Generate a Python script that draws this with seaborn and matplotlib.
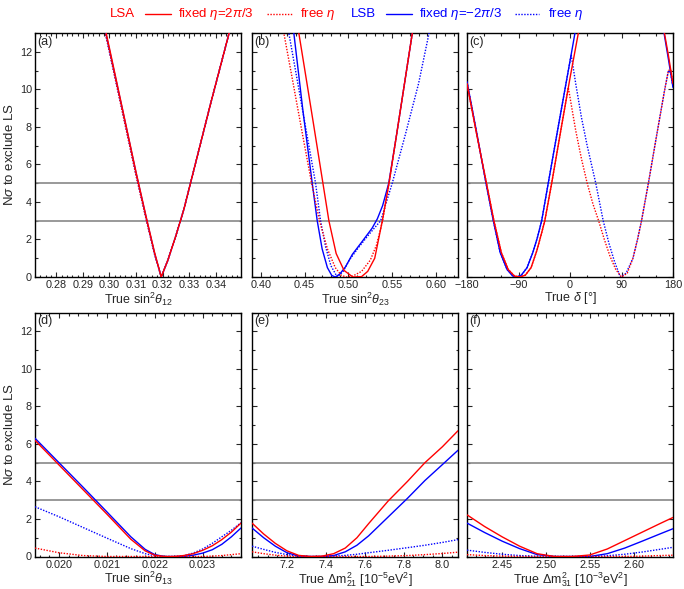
import numpy as np
import pandas as pd
import seaborn as sns
import matplotlib.pyplot as plt
from matplotlib.ticker import MultipleLocator, FormatStrFormatter
from matplotlib.lines import Line2D

# ---- (a) true sin^2 theta12 ----
s12_x = [0.296, 0.300, 0.305, 0.310, 0.314, 0.317, 0.3195, 0.322, 0.325, 0.328, 0.333, 0.338, 0.343, 0.348]
s12_lsa_fixed = [14.8, 12.2, 8.9, 5.6, 3.1, 1.3, 0.0, 0.9, 2.2, 3.6, 6.4, 9.2, 11.9, 14.6]
s12_lsa_free = [14.6, 12.0, 8.7, 5.4, 2.95, 1.2, 0.0, 0.9, 2.2, 3.6, 6.4, 9.2, 11.9, 14.6]
s12_lsb_fixed = [14.7, 12.1, 8.85, 5.55, 3.05, 1.25, 0.0, 0.9, 2.2, 3.6, 6.4, 9.2, 11.9, 14.6]
s12_lsb_free = [14.6, 12.0, 8.75, 5.45, 3.0, 1.2, 0.0, 0.9, 2.2, 3.6, 6.4, 9.2, 11.9, 14.6]

# ---- (b) true sin^2 theta23 ----
s23_lsa_fixed_x = [0.438, 0.4434, 0.450, 0.460, 0.4709, 0.4777, 0.486, 0.495, 0.505, 0.515, 0.522, 0.530, 0.5387, 0.5463, 0.555, 0.5729, 0.578]
s23_lsa_fixed = [14.6, 13.0, 11.1, 8.2, 5.0, 3.0, 1.25, 0.35, 0.0, 0.02, 0.3, 1.0, 3.0, 5.0, 7.6, 13.0, 14.4]
s23_lsa_free_x = [0.420, 0.4263, 0.437, 0.448, 0.458, 0.467, 0.476, 0.485, 0.492, 0.498, 0.505, 0.515, 0.525, 0.532, 0.539, 0.5463, 0.555, 0.5729, 0.578]
s23_lsa_free = [14.6, 13.0, 10.3, 7.5, 5.0, 3.0, 1.5, 0.5, 0.08, 0.0, 0.05, 0.3, 0.9, 1.7, 3.0, 5.0, 7.6, 13.0, 14.4]
s23_lsb_fixed_x = [0.432, 0.4377, 0.448, 0.4587, 0.4644, 0.470, 0.476, 0.481, 0.485, 0.490, 0.4968, 0.5044, 0.5158, 0.527, 0.533, 0.539, 0.546, 0.555, 0.5729, 0.578]
s23_lsb_fixed = [15.0, 13.0, 8.9, 5.0, 3.0, 1.5, 0.5, 0.08, 0.0, 0.15, 0.55, 1.2, 1.9, 2.6, 3.1, 3.8, 5.0, 7.6, 13.0, 14.5]
s23_lsb_free_x = [0.426, 0.432, 0.445, 0.4625, 0.4682, 0.474, 0.480, 0.4872, 0.494, 0.501, 0.512, 0.524, 0.5368, 0.550, 0.565, 0.580, 0.592, 0.598]
s23_lsb_free = [15.0, 13.0, 9.6, 5.0, 3.0, 1.6, 0.6, 0.0, 0.3, 0.9, 1.6, 2.3, 3.0, 5.0, 7.6, 10.3, 13.0, 14.3]

# ---- (c) true delta [deg] ----
dcp_lsa_fixed_x = [-180, -165, -146, -133, -120, -108, -97, -87, -78, -68, -58, -50, -44, -32, -15, 0, 14.6, 25, 90, 160, 165, 172, 180]
dcp_lsa_fixed = [10.3, 7.9, 5.0, 3.0, 1.3, 0.4, 0.05, 0.0, 0.1, 0.5, 1.4, 2.3, 3.0, 5.0, 8.0, 10.6, 13.0, 14.7, 26.0, 14.0, 13.0, 11.8, 10.3]
dcp_lsa_free_x = [-180, -165, -146, -133, -120, -108, -97, -87, -78, -68, -58, -50, -44, -32, -15, -3, 10, 20, 30, 40, 50, 60, 70, 80, 90, 100, 110, 118, 125, 137, 150, 165, 172, 176, 180]
dcp_lsa_free = [10.3, 7.9, 5.0, 3.0, 1.3, 0.4, 0.05, 0.0, 0.1, 0.5, 1.4, 2.3, 3.0, 5.0, 8.0, 10.1, 7.8, 6.3, 5.0, 3.9, 3.0, 2.0, 1.1, 0.4, 0.0, 0.2, 1.0, 2.0, 3.0, 5.0, 7.3, 9.9, 11.0, 11.05, 10.3]
dcp_lsb_fixed_x = [-180, -165, -146.8, -134, -122, -110, -100, -93, -85, -75, -65, -57, -49.5, -38, -20, 0, 8.7, 20, 90, 158, 164.3, 172, 180]
dcp_lsb_fixed = [10.4, 8.0, 5.0, 3.0, 1.3, 0.4, 0.05, 0.0, 0.1, 0.5, 1.3, 2.1, 3.0, 5.0, 8.1, 11.5, 13.0, 15.0, 26.0, 14.1, 13.0, 11.6, 10.1]
dcp_lsb_free_x = [-180, -165, -146.8, -134, -122, -110, -100, -93, -85, -75, -65, -57, -49.5, -38, -20, 0, 2, 10, 20, 30, 45, 58, 68, 78, 88, 98, 110, 118, 125, 137, 150, 165, 172, 176, 180]
dcp_lsb_free = [10.4, 8.0, 5.0, 3.0, 1.3, 0.4, 0.05, 0.0, 0.1, 0.5, 1.3, 2.1, 3.0, 5.0, 8.1, 11.5, 11.85, 10.3, 8.5, 7.0, 5.0, 3.0, 1.8, 0.8, 0.0, 0.2, 1.0, 2.0, 3.0, 5.0, 7.3, 9.9, 11.0, 10.85, 10.1]

# ---- (d) true sin^2 theta13 ----
s13_x = [0.0195, 0.0200, 0.0205, 0.0210, 0.0215, 0.0218, 0.0220, 0.0222, 0.0224, 0.0226, 0.0228, 0.0230, 0.0232, 0.0234, 0.0236, 0.0238]
s13_lsa_fixed = [6.19, 4.88, 3.57, 2.26, 0.92, 0.3, 0.07, 0.0, 0.0, 0.05, 0.15, 0.33, 0.57, 0.9, 1.3, 1.78]
s13_lsa_free = [0.45, 0.2, 0.05, 0.0, 0.0, 0.0, 0.0, 0.0, 0.0, 0.0, 0.0, 0.0, 0.02, 0.05, 0.1, 0.15]
s13_lsb_fixed = [6.3, 5.0, 3.7, 2.38, 1.05, 0.38, 0.1, 0.0, 0.0, 0.0, 0.07, 0.18, 0.36, 0.65, 1.05, 1.52]
s13_lsb_free = [2.65, 2.12, 1.55, 0.98, 0.42, 0.15, 0.04, 0.0, 0.0, 0.04, 0.18, 0.4, 0.7, 1.05, 1.4, 1.8]

# ---- (e) true dm21^2 [1e-5 eV^2] ----
dm21_x = [7.02, 7.08, 7.14, 7.20, 7.26, 7.32, 7.38, 7.44, 7.50, 7.56, 7.62, 7.72, 7.82, 7.91, 8.00, 8.08]
dm21_lsa_fixed = [1.78, 1.2, 0.7, 0.3, 0.06, 0.0, 0.02, 0.15, 0.45, 1.0, 1.75, 2.95, 4.0, 5.0, 5.85, 6.7]
dm21_lsa_free = [0.25, 0.15, 0.07, 0.02, 0.0, 0.0, 0.0, 0.0, 0.0, 0.0, 0.0, 0.02, 0.05, 0.1, 0.16, 0.23]
dm21_lsb_fixed = [1.52, 1.0, 0.55, 0.2, 0.03, 0.0, 0.0, 0.05, 0.25, 0.6, 1.1, 2.1, 3.1, 4.05, 4.9, 5.66]
dm21_lsb_free = [0.55, 0.38, 0.22, 0.1, 0.02, 0.0, 0.0, 0.02, 0.06, 0.12, 0.2, 0.33, 0.47, 0.6, 0.75, 0.9]

# ---- (f) true dm31^2 [1e-3 eV^2] ----
dm31_x = [2.41, 2.43, 2.45, 2.47, 2.49, 2.51, 2.53, 2.55, 2.57, 2.59, 2.61, 2.63, 2.645]
dm31_lsa_fixed = [2.22, 1.6, 1.05, 0.55, 0.15, 0.0, 0.0, 0.08, 0.4, 0.85, 1.3, 1.75, 2.08]
dm31_lsa_free = [0.1, 0.05, 0.02, 0.0, 0.0, 0.0, 0.0, 0.0, 0.0, 0.0, 0.02, 0.05, 0.07]
dm31_lsb_fixed = [1.78, 1.28, 0.82, 0.42, 0.1, 0.0, 0.0, 0.0, 0.15, 0.45, 0.82, 1.2, 1.48]
dm31_lsb_free = [0.34, 0.22, 0.12, 0.05, 0.01, 0.0, 0.0, 0.0, 0.04, 0.12, 0.24, 0.38, 0.49]

RED = "#ff0000"
BLUE = "#0000ff"
DOT = (0, (1.0, 1.1))

sns.set_style("ticks")
plt.rcParams['font.family'] = ['Liberation Sans', 'DejaVu Sans']
plt.rcParams['mathtext.fontset'] = 'custom'
plt.rcParams['mathtext.rm'] = 'Liberation Sans'
plt.rcParams['mathtext.it'] = 'Liberation Sans:italic'
plt.rcParams['mathtext.bf'] = 'Liberation Sans:bold'

fig = plt.figure(figsize=(6.84, 5.89), dpi=100)

lefts = [35 / 684, 252 / 684, 467 / 684]
bottoms = [1 - 277 / 589, 1 - 556.5 / 589]
w, h = 206 / 684, 244 / 589

panels = [
    # curves (x, y, color, style), xlim, major, minor, fmt, xlabel, tag
    ([(s12_x, s12_lsb_fixed, BLUE, '-'), (s12_x, s12_lsb_free, BLUE, DOT),
      (s12_x, s12_lsa_free, RED, DOT), (s12_x, s12_lsa_fixed, RED, '-')],
     (0.272, 0.3495), 0.01, 0.002, "%.2f", r"True sin$^2\theta_{12}$", "(a)"),
    ([(s23_lsb_fixed_x, s23_lsb_fixed, BLUE, '-'), (s23_lsb_free_x, s23_lsb_free, BLUE, DOT),
      (s23_lsa_free_x, s23_lsa_free, RED, DOT), (s23_lsa_fixed_x, s23_lsa_fixed, RED, '-')],
     (0.39, 0.625), 0.05, 0.01, "%.2f", r"True sin$^2\theta_{23}$", "(b)"),
    ([(dcp_lsb_fixed_x, dcp_lsb_fixed, BLUE, '-'), (dcp_lsb_free_x, dcp_lsb_free, BLUE, DOT),
      (dcp_lsa_free_x, dcp_lsa_free, RED, DOT), (dcp_lsa_fixed_x, dcp_lsa_fixed, RED, '-')],
     (-180, 180), 90, 30, None, r"True $\delta$ [°]", "(c)"),
    ([(s13_x, s13_lsb_fixed, BLUE, '-'), (s13_x, s13_lsb_free, BLUE, DOT),
      (s13_x, s13_lsa_free, RED, DOT), (s13_x, s13_lsa_fixed, RED, '-')],
     (0.0195, 0.0238), 0.001, 0.0002, "%.3f", r"True sin$^2\theta_{13}$", "(d)"),
    ([(dm21_x, dm21_lsb_fixed, BLUE, '-'), (dm21_x, dm21_lsb_free, BLUE, DOT),
      (dm21_x, dm21_lsa_free, RED, DOT), (dm21_x, dm21_lsa_fixed, RED, '-')],
     (7.02, 8.08), 0.2, 0.05, "%.1f", r"True $\Delta$m$^2_{21}$ [10$^{-5}$eV$^2$]", "(e)"),
    ([(dm31_x, dm31_lsb_fixed, BLUE, '-'), (dm31_x, dm31_lsb_free, BLUE, DOT),
      (dm31_x, dm31_lsa_free, RED, DOT), (dm31_x, dm31_lsa_fixed, RED, '-')],
     (2.41, 2.645), 0.05, 0.01, "%.2f", r"True $\Delta$m$^2_{31}$ [10$^{-3}$eV$^2$]", "(f)"),
]

for i, (curves, xlim, major, minor, fmt, xlabel, tag) in enumerate(panels):
    row, col = divmod(i, 3)
    ax = fig.add_axes([lefts[col], bottoms[row], w, h])
    ax.axhline(3, color="#888888", lw=1.2, zorder=1)
    ax.axhline(5, color="#888888", lw=1.2, zorder=1)
    for x, y, c, ls in curves:
        sns.lineplot(x=x, y=y, ax=ax, color=c, linestyle=ls, lw=1.0,
                     estimator=None, sort=False, zorder=3)
    ax.set_xlim(*xlim)
    ax.set_ylim(0, 13)
    ax.xaxis.set_major_locator(MultipleLocator(major))
    ax.xaxis.set_minor_locator(MultipleLocator(minor))
    if fmt:
        ax.xaxis.set_major_formatter(FormatStrFormatter(fmt))
    ax.yaxis.set_major_locator(MultipleLocator(2))
    ax.yaxis.set_minor_locator(MultipleLocator(1))
    ax.tick_params(which='both', direction='in', top=True, right=True,
                   labelsize=7.8, pad=2.2, width=0.8)
    ax.tick_params(which='major', length=3.5)
    ax.tick_params(which='minor', length=1.8)
    for s in ax.spines.values():
        s.set_linewidth(1.0)
        s.set_color('black')
    ax.set_xlabel(xlabel, fontsize=9.0, labelpad=0.3)
    if col == 0:
        ax.set_ylabel(r"N$\sigma$ to exclude LS", fontsize=9.5, labelpad=3)
    else:
        ax.set_ylabel("")
        ax.tick_params(labelleft=False)
    ax.text(0.012, 0.988, tag, transform=ax.transAxes, ha='left', va='top', fontsize=9)

# legend row at the top
ly = 1 - 14 / 589
fig.text(110 / 684, ly, "LSA", color=RED, fontsize=9.5, va='center')
fig.add_artist(Line2D([145 / 684, 171 / 684], [ly, ly], color=RED, lw=1.0, transform=fig.transFigure))
fig.text(178 / 684, ly, r"fixed $\eta$=2$\pi$/3", color=RED, fontsize=9.5, va='center')
fig.add_artist(Line2D([267 / 684, 292 / 684], [ly, ly], color=RED, lw=1.0, ls=DOT, transform=fig.transFigure))
fig.text(300 / 684, ly, r"free $\eta$", color=RED, fontsize=9.5, va='center')
fig.text(351 / 684, ly, "LSB", color=BLUE, fontsize=9.5, va='center')
fig.add_artist(Line2D([386 / 684, 412 / 684], [ly, ly], color=BLUE, lw=1.0, transform=fig.transFigure))
fig.text(419 / 684, ly, r"fixed $\eta$=$-$2$\pi$/3", color=BLUE, fontsize=9.5, va='center')
fig.add_artist(Line2D([515 / 684, 539 / 684], [ly, ly], color=BLUE, lw=1.0, ls=DOT, transform=fig.transFigure))
fig.text(548 / 684, ly, r"free $\eta$", color=BLUE, fontsize=9.5, va='center')

fig.savefig("out.png", dpi=100)
